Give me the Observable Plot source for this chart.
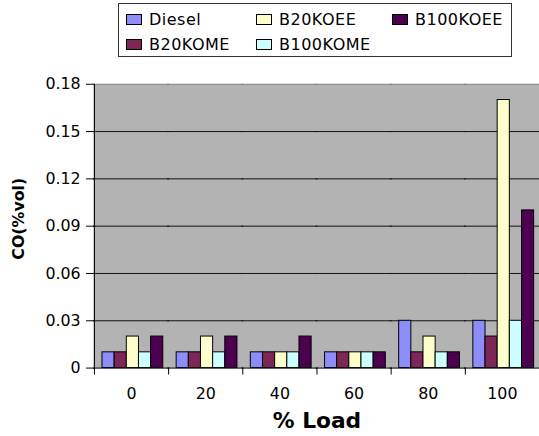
<!DOCTYPE html>
<html><head>
<meta charset="utf-8">
<script src="https://cdn.jsdelivr.net/npm/d3@7"></script>
<script src="https://cdn.jsdelivr.net/npm/@observablehq/plot@0.6"></script>
<style>
  body { margin: 0; background: #fff; font-family: "DejaVu Sans", sans-serif; }
  #legend { position: relative; width: 539px; height: 62px; }
  #legend .box {
    position: absolute; left: 118px; top: 3px; width: 394px; height: 54px;
    border: 1px solid #333; box-sizing: border-box;
    display: grid; grid-auto-flow: column; grid-template-rows: 25px 25px;
    grid-template-columns: 130px 136px auto; padding: 9px 0 0 7px;
  }
  #legend .item { display: flex; align-items: center; font-size: 16px; letter-spacing: 0.5px; color: #000; white-space: nowrap; height: 25px; margin-top: -6px; }
  #legend .sw { width: 16px; height: 11px; border: 1px solid #000; margin-right: 7px; box-sizing: border-box; }
  #chart { width: 539px; overflow: hidden; }
  g[aria-label="y-axis label"] { transform: translate(-82px, -7px); }
  g[aria-label="y-axis label"] text { font-weight: bold; font-size: 16px; }
  g[aria-label="fx-axis label"] text { font-weight: bold; font-size: 22px; }
</style>
</head><body>
<div id="legend"><div class="box"></div></div>
<div id="chart"></div>
<script>
// Engine load steps (%) and fuels
const loads = [0, 20, 40, 60, 80, 100];
const series = ["Diesel", "B20KOME", "B20KOEE", "B100KOME", "B100KOEE"];
const colors = ["#8d8dfa", "#7d2757", "#ffffcc", "#ccffff", "#4b0050"];

// CO emissions, % vol, one value per load step
const diesel   = [0.01, 0.01, 0.01, 0.01, 0.03, 0.03];
const b20kome  = [0.01, 0.01, 0.01, 0.01, 0.01, 0.02];
const b20koee  = [0.02, 0.02, 0.01, 0.01, 0.02, 0.17];
const b100kome = [0.01, 0.01, 0.01, 0.01, 0.01, 0.03];
const b100koee = [0.02, 0.02, 0.02, 0.01, 0.01, 0.10];

const yTicks = [0, 0.03, 0.06, 0.09, 0.12, 0.15, 0.18];

const values = [diesel, b20kome, b20koee, b100kome, b100koee];
const rows = [];
loads.forEach((load, i) => {
  series.forEach((s, j) => rows.push({load, series: s, co: values[j][i]}));
});

// Legend
const box = document.querySelector("#legend .box");
series.forEach((s, j) => {
  const item = document.createElement("div");
  item.className = "item";
  const sw = document.createElement("span");
  sw.className = "sw";
  sw.style.background = colors[j];
  item.append(sw, document.createTextNode(s));
  box.append(item);
});

const height = 374, marginTop = 22, marginBottom = 65;
const plotH = height - marginTop - marginBottom;

const chart = Plot.plot({
  width: 545,
  height,
  marginLeft: 95,
  marginRight: 0,
  marginTop,
  marginBottom,
  style: {fontFamily: "DejaVu Sans, sans-serif", fontSize: "16px", color: "#000", background: "transparent"},
  fx: {domain: loads, padding: 0, round: false},
  x: {domain: series, paddingInner: 0, paddingOuter: 0.55, align: 0.6, round: false, axis: null},
  y: {domain: [0, 0.18]},
  color: {domain: series, range: colors},
  marks: [
    // plot background; each facet overlaps its neighbours slightly so no seams show
    Plot.frame({fill: "#b3b3b3", stroke: "none", insetLeft: -1, insetRight: -1}),
    Plot.ruleY(yTicks.filter(t => t > 0 && t < 0.18), {stroke: "#111", insetLeft: -1, insetRight: -1}),
    Plot.ruleY([0.18], {stroke: "#808080", insetLeft: -1, insetRight: -1}),
    Plot.barY(rows, {fx: "load", x: "series", y: "co", fill: "series", stroke: "#000", strokeWidth: 1}),
    Plot.ruleY([0], {stroke: "#000", insetLeft: -1, insetRight: -1}),
    Plot.frame({anchor: "left", facetAnchor: "left", stroke: "#000"}),
    // category separator ticks below the axis
    Plot.frame({anchor: "left", insetTop: plotH, insetBottom: -6, stroke: "#000"}),
    Plot.axisY({
      ticks: yTicks,
      tickFormat: d => d === 0 ? "0" : d.toFixed(2),
      tickSize: 8,
      tickPadding: 6,
      label: "CO(%vol)",
      labelAnchor: "center",
      labelArrow: "none",
      labelOffset: 82
    }),
    Plot.axisFx({
      anchor: "bottom",
      tickSize: 0,
      tickPadding: 20,
      label: "% Load",
      labelAnchor: "center",
      labelArrow: "none",
      labelOffset: 61
    })
  ]
});
document.getElementById("chart").append(chart);
</script>
</body></html>
